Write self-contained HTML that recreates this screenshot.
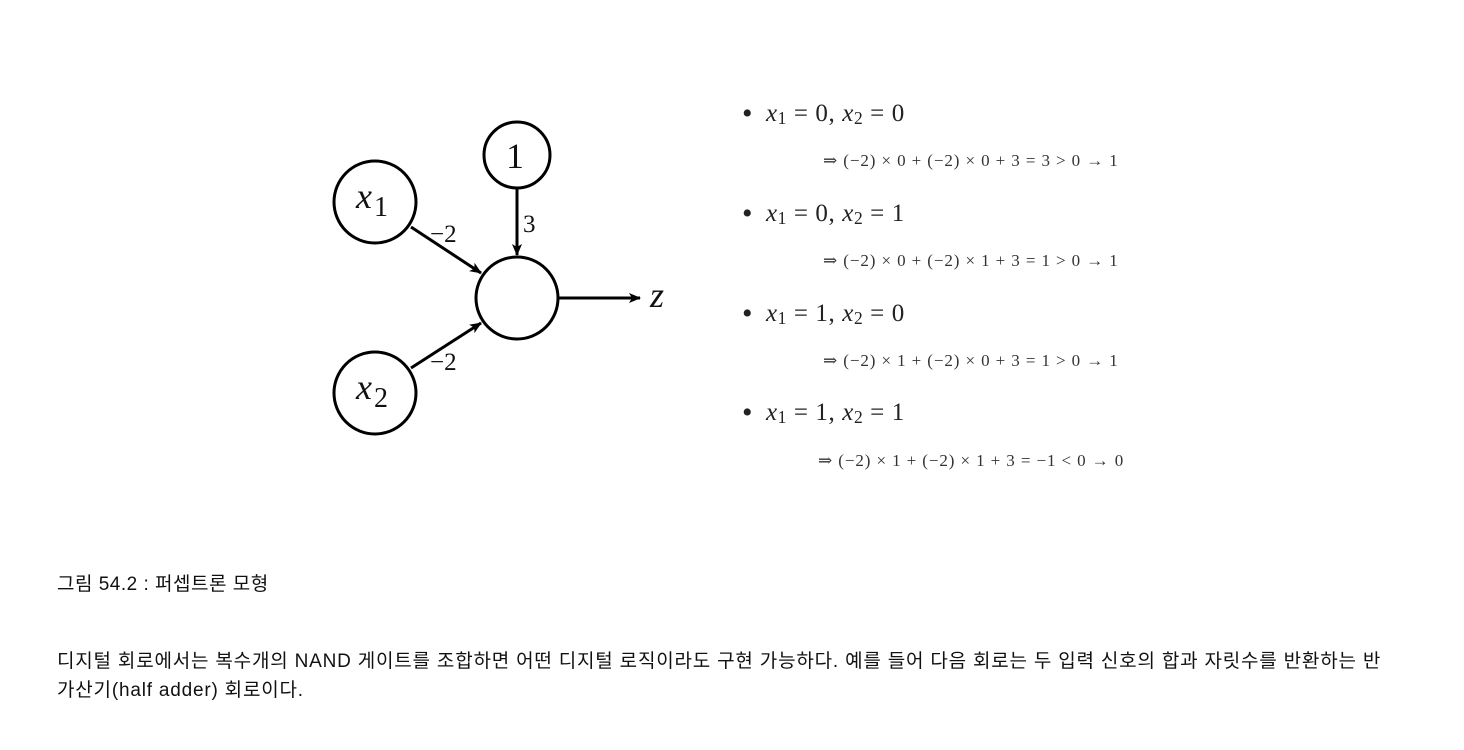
<!DOCTYPE html>
<html><head><meta charset="utf-8">
<style>
body{margin:0;width:1464px;height:750px;background:#fff;position:relative;overflow:hidden;font-family:"Liberation Sans","Noto Sans CJK KR",sans-serif;}
.m{position:absolute;font-family:"Liberation Serif","DejaVu Serif",serif;color:#222;white-space:nowrap;}
.b{font-size:25px;letter-spacing:0.6px;}
.b .d{font-size:30px;position:relative;top:2px;margin-right:6px;}
.s{font-size:17px;color:#333;letter-spacing:0.9px;}
i{font-style:italic;}
sub{font-size:70%;vertical-align:-3px;}
.t{position:absolute;left:57px;font-size:19px;color:#111;white-space:nowrap;letter-spacing:0.8px;}
</style></head><body>
<svg width="1464" height="520" style="position:absolute;left:0;top:0">
<defs><marker id="ah" markerWidth="12" markerHeight="10" refX="11" refY="5" orient="auto" markerUnits="userSpaceOnUse"><path d="M0,0 L12,5 L0,10 L3,5 z" fill="#000"/></marker></defs>
<g stroke="#000" stroke-width="3" fill="none">
<circle cx="375" cy="202" r="41"/>
<circle cx="517" cy="155" r="33"/>
<circle cx="517" cy="298" r="41"/>
<circle cx="375" cy="393" r="41"/>
<line x1="411" y1="227" x2="481" y2="273" marker-end="url(#ah)"/>
<line x1="517" y1="189" x2="517" y2="255" marker-end="url(#ah)"/>
<line x1="411" y1="368" x2="481" y2="323" marker-end="url(#ah)"/>
<line x1="559" y1="298" x2="640" y2="298" marker-end="url(#ah)"/>
</g>
<g font-family="Liberation Serif,DejaVu Serif,serif" fill="#111">
<text x="356" y="208" font-size="36" font-style="italic">x</text><text x="374" y="216" font-size="28">1</text>
<text x="356" y="399" font-size="36" font-style="italic">x</text><text x="374" y="407" font-size="28">2</text>
<text x="506" y="168" font-size="36">1</text>
<text x="430" y="242" font-size="25">−2</text>
<text x="430" y="370" font-size="25">−2</text>
<text x="523" y="232" font-size="25">3</text>
<text x="650" y="307" font-size="36" font-style="italic">z</text>
</g>
</svg>
<div class="m b" style="left:742px;top:95px"><span class="d">•</span> <i>x</i><sub>1</sub> = 0, <i>x</i><sub>2</sub> = 0</div>
<div class="m s" style="left:823px;top:151px">⇒ (−2) × 0 + (−2) × 0 + 3 = 3 &gt; 0 → 1</div>
<div class="m b" style="left:742px;top:195px"><span class="d">•</span> <i>x</i><sub>1</sub> = 0, <i>x</i><sub>2</sub> = 1</div>
<div class="m s" style="left:823px;top:251px">⇒ (−2) × 0 + (−2) × 1 + 3 = 1 &gt; 0 → 1</div>
<div class="m b" style="left:742px;top:295px"><span class="d">•</span> <i>x</i><sub>1</sub> = 1, <i>x</i><sub>2</sub> = 0</div>
<div class="m s" style="left:823px;top:351px">⇒ (−2) × 1 + (−2) × 0 + 3 = 1 &gt; 0 → 1</div>
<div class="m b" style="left:742px;top:394px"><span class="d">•</span> <i>x</i><sub>1</sub> = 1, <i>x</i><sub>2</sub> = 1</div>
<div class="m s" style="left:818px;top:451px">⇒ (−2) × 1 + (−2) × 1 + 3 = −1 &lt; 0 → 0</div>
<div class="t" style="top:569px;letter-spacing:0.5px">그림 54.2 : 퍼셉트론 모형</div>
<div class="t" style="top:647px;line-height:29px;white-space:nowrap">디지털 회로에서는 복수개의 NAND 게이트를 조합하면 어떤 디지털 로직이라도 구현 가능하다. 예를 들어 다음 회로는 두 입력 신호의 합과 자릿수를 반환하는 반<br>가산기(half adder) 회로이다.</div>
</body></html>
